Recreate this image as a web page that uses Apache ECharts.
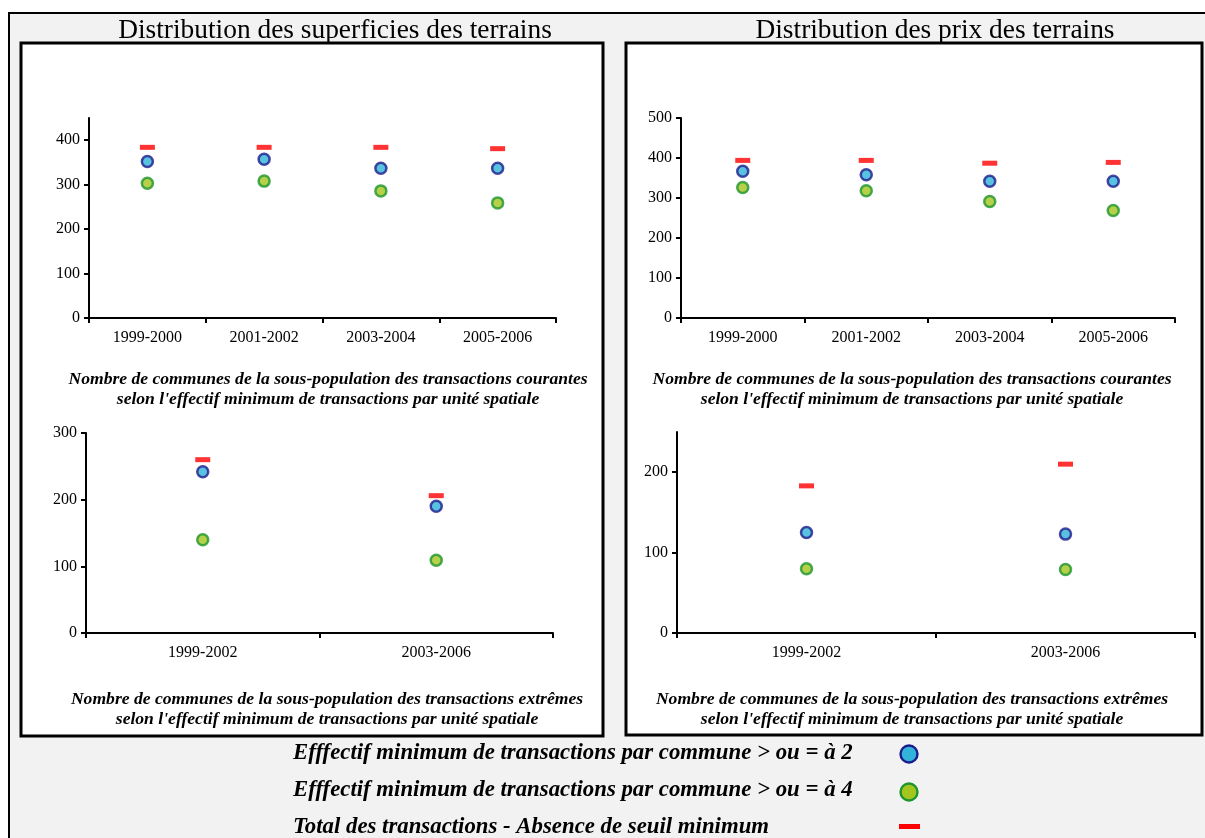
<!DOCTYPE html>
<html>
<head>
<meta charset="utf-8">
<style>
html,body{margin:0;padding:0;background:#fff;}
#chart{width:1205px;height:838px;}
</style>
<script src="https://cdn.jsdelivr.net/npm/echarts@6/dist/echarts.min.js"></script>
</head>
<body>
<div id="chart"></div>
<script>
// ---- Data ----
const categoriesCourantes = ['1999-2000', '2001-2002', '2003-2004', '2005-2006'];
const categoriesExtremes = ['1999-2002', '2003-2006'];

const superfCourSeuil2 = [352, 357, 337, 337];
const superfCourSeuil4 = [303, 308, 286, 259];
const superfCourTotal  = [384, 384, 384, 381];

const prixCourSeuil2 = [367, 358, 342, 342];
const prixCourSeuil4 = [326, 318, 291, 269];
const prixCourTotal  = [394, 394, 387, 389];

const superfExtSeuil2 = [242, 190];
const superfExtSeuil4 = [140, 109];
const superfExtTotal  = [260, 206];

const prixExtSeuil2 = [125, 123];
const prixExtSeuil4 = [80, 79];
const prixExtTotal  = [183, 210];

const ticksSuperfCour = [0, 100, 200, 300, 400];
const ticksPrixCour   = [0, 100, 200, 300, 400, 500];
const ticksSuperfExt  = [0, 100, 200, 300];
const ticksPrixExt    = [0, 100, 200];

const titleLeft  = 'Distribution des superficies des terrains';
const titleRight = 'Distribution des prix des terrains';
const subCourantes = "Nombre de communes de la sous-population des transactions courantes\nselon l'effectif minimum de transactions par unité spatiale";
const subExtremes  = "Nombre de communes de la sous-population des transactions extrêmes\nselon l'effectif minimum de transactions par unité spatiale";
const legendNames = [
  'Efffectif minimum de transactions par commune > ou = à 2',
  'Efffectif minimum de transactions par commune > ou = à 4',
  'Total des transactions - Absence de seuil minimum'
];

// ---- Styles ----
const FONT = "'Liberation Serif', 'Times New Roman', serif";
const BLUE = { color: '#31b3da', borderColor: '#1c1c8c', borderWidth: 2.5 };
const GREEN = { color: '#a3c61e', borderColor: '#1d952c', borderWidth: 2.5 };
const RED = { color: '#ff0000' };

const grids = [
  { left: 89,  top: 118, width: 467, height: 200 },
  { left: 681, top: 118, width: 494, height: 200 },
  { left: 86,  top: 433, width: 467, height: 200 },
  { left: 677, top: 432, width: 518, height: 201 }
];

function xAxis(idx, cats) {
  return {
    type: 'category', gridIndex: idx, data: cats, boundaryGap: true,
    axisLine: { lineStyle: { color: '#000', width: 2 } },
    axisTick: { show: true, length: 5, lineStyle: { color: '#000', width: 2 } },
    axisLabel: { color: '#000', fontFamily: FONT, fontSize: 16, margin: 12 },
    splitLine: { show: false }
  };
}
function yAxis(idx, max, ticks) {
  return {
    type: 'value', gridIndex: idx, min: 0, max: max,
    axisLine: { show: true, lineStyle: { color: '#000', width: 2 } },
    axisTick: { show: true, length: 5, customValues: ticks, lineStyle: { color: '#000', width: 2 } },
    axisLabel: { color: '#000', fontFamily: FONT, fontSize: 16, margin: 9, customValues: ticks },
    splitLine: { show: false }
  };
}
function trio(idx, s2, s4, tot) {
  return [
    { type: 'scatter', name: legendNames[0], xAxisIndex: idx, yAxisIndex: idx, data: s2,
      symbol: 'circle', symbolSize: 11, itemStyle: BLUE, z: 3 },
    { type: 'scatter', name: legendNames[1], xAxisIndex: idx, yAxisIndex: idx, data: s4,
      symbol: 'circle', symbolSize: 11, itemStyle: GREEN, z: 3 },
    { type: 'scatter', name: legendNames[2], xAxisIndex: idx, yAxisIndex: idx, data: tot,
      symbol: 'rect', symbolSize: [15, 5], itemStyle: RED, z: 3 }
  ];
}

const subStyle = { fontFamily: FONT, fontSize: 17.6, fontWeight: 'bold', fontStyle: 'italic',
  fill: '#000', align: 'center', verticalAlign: 'middle', lineHeight: 20 };
const legStyle = { fontFamily: FONT, fontSize: 22.8, fontWeight: 'bold', fontStyle: 'italic',
  fill: '#000', align: 'left', verticalAlign: 'middle' };

const option = {
  animation: false,
  backgroundColor: '#fff',
  grid: grids,
  xAxis: [xAxis(0, categoriesCourantes), xAxis(1, categoriesCourantes), xAxis(2, categoriesExtremes), xAxis(3, categoriesExtremes)],
  yAxis: [yAxis(0, 450, ticksSuperfCour), yAxis(1, 500, ticksPrixCour), yAxis(2, 300, ticksSuperfExt), yAxis(3, 250, ticksPrixExt)],
  series: [].concat(
    trio(0, superfCourSeuil2, superfCourSeuil4, superfCourTotal),
    trio(1, prixCourSeuil2, prixCourSeuil4, prixCourTotal),
    trio(2, superfExtSeuil2, superfExtSeuil4, superfExtTotal),
    trio(3, prixExtSeuil2, prixExtSeuil4, prixExtTotal)
  ),
  graphic: [
    { type: 'rect', z: -10, shape: { x: 9, y: 13, width: 1210, height: 840 },
      style: { fill: '#f2f2f2', stroke: '#000', lineWidth: 2 } },
    { type: 'rect', z: -9, shape: { x: 21, y: 43, width: 582, height: 693 },
      style: { fill: '#fff', stroke: '#000', lineWidth: 3 } },
    { type: 'rect', z: -9, shape: { x: 626, y: 43, width: 576, height: 692 },
      style: { fill: '#fff', stroke: '#000', lineWidth: 3 } },
    { type: 'text', z: 5, x: 335, y: 31, style: { text: titleLeft, fontFamily: FONT, fontSize: 27.4, fill: '#000', align: 'center', verticalAlign: 'middle' } },
    { type: 'text', z: 5, x: 935, y: 31, style: { text: titleRight, fontFamily: FONT, fontSize: 27.4, fill: '#000', align: 'center', verticalAlign: 'middle' } },
    { type: 'text', z: 5, x: 328, y: 389, style: Object.assign({ text: subCourantes }, subStyle) },
    { type: 'text', z: 5, x: 912, y: 389, style: Object.assign({ text: subCourantes }, subStyle) },
    { type: 'text', z: 5, x: 327, y: 709, style: Object.assign({ text: subExtremes }, subStyle) },
    { type: 'text', z: 5, x: 912, y: 709, style: Object.assign({ text: subExtremes }, subStyle) },
    { type: 'text', z: 5, x: 293, y: 753, style: Object.assign({ text: legendNames[0] }, legStyle) },
    { type: 'text', z: 5, x: 293, y: 790, style: Object.assign({ text: legendNames[1] }, legStyle) },
    { type: 'text', z: 5, x: 293, y: 827, style: Object.assign({ text: legendNames[2] }, legStyle) },
    { type: 'circle', z: 5, shape: { cx: 909, cy: 754, r: 8.5 },
      style: { fill: BLUE.color, stroke: BLUE.borderColor, lineWidth: 2.4 } },
    { type: 'circle', z: 5, shape: { cx: 909, cy: 792, r: 8.5 },
      style: { fill: GREEN.color, stroke: GREEN.borderColor, lineWidth: 2.4 } },
    { type: 'rect', z: 5, shape: { x: 899, y: 824, width: 21, height: 5 },
      style: { fill: RED.color } }
  ]
};

const chart = echarts.init(document.getElementById('chart'), null, { renderer: 'canvas' });
chart.setOption(option);
</script>
</body>
</html>
